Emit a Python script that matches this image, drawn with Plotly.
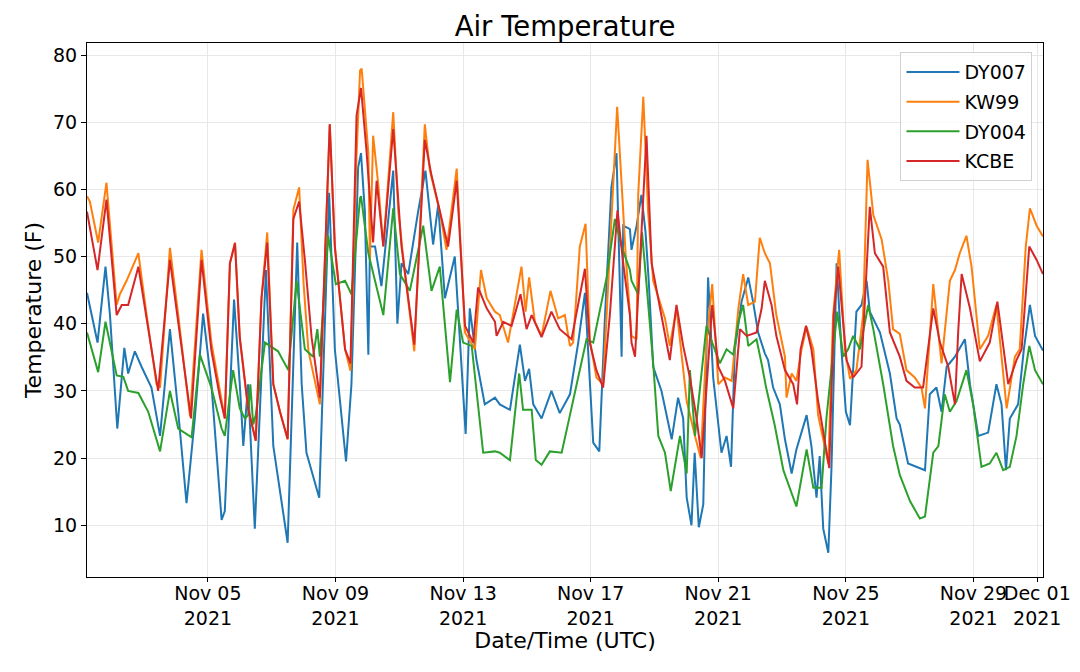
"""
Air Temperature - four stations, November 2021
"""

import pandas as pd
import plotly.graph_objects as go

# Values: day of month (fractional, UTC) and temperature (F)
dy007_day = [1.21, 1.54, 1.79, 1.93, 2.16, 2.38, 2.50, 2.71, 2.92, 3.23,
             3.50, 3.81, 4.07, 4.33, 4.59, 4.85, 5.11, 5.43, 5.53, 5.82,
             6.00, 6.11, 6.26, 6.47, 6.82, 7.05, 7.50, 7.80, 7.94, 8.09,
             8.49, 8.80, 8.98, 9.33, 9.50, 9.71, 9.80, 9.92, 10.03, 10.08,
             10.24, 10.44, 10.81, 10.94, 11.07, 11.28, 11.59, 11.82, 12.06, 12.22,
             12.43, 12.74, 13.08, 13.21, 13.42, 13.68, 14.00, 14.15, 14.47, 14.78,
             14.94, 15.07, 15.20, 15.46, 15.77, 16.03, 16.35, 16.61, 16.82, 16.97,
             17.08, 17.27, 17.45, 17.65, 17.81, 17.97, 18.02, 18.23, 18.28, 18.44,
             18.59, 18.72, 18.82, 18.96, 19.22, 19.54, 19.74, 19.90, 20.01, 20.16,
             20.26, 20.39, 20.53, 20.68, 20.84, 21.10, 21.26, 21.40, 21.52, 21.73,
             21.94, 22.09, 22.25, 22.46, 22.56, 22.72, 22.93, 23.09, 23.30, 23.45,
             23.77, 23.92, 24.08, 24.18, 24.29, 24.45, 24.55, 24.71, 24.86, 25.00,
             25.13, 25.33, 25.49, 25.65, 25.75, 26.07, 26.38, 26.59, 26.69, 26.95,
             27.48, 27.63, 27.84, 28.00, 28.16, 28.42, 28.73, 28.89, 29.15, 29.46,
             29.72, 29.88, 30.02, 30.14, 30.40, 30.58, 30.77, 30.93, 31.18]
dy007_temp = [44.6, 37.2, 48.5, 41.3, 24.4, 36.4, 32.6, 35.9, 33.6, 30.5,
              23.3, 39.2, 26.9, 13.3, 25.9, 41.5, 31.0, 10.8, 12.1, 43.6,
              31.0, 21.8, 31.0, 9.5, 48.0, 21.8, 7.4, 52.1, 31.0, 20.8,
              14.1, 59.5, 36.2, 19.5, 31.0, 63.3, 65.4, 56.7, 35.4, 51.5,
              51.5, 45.6, 62.8, 40.0, 49.0, 47.4, 56.7, 62.8, 51.8, 57.7,
              43.8, 50.0, 23.6, 42.3, 34.6, 28.0, 29.0, 28.0, 27.2, 36.9,
              31.5, 33.3, 28.0, 25.9, 30.0, 26.7, 29.5, 37.2, 44.6, 31.0,
              22.3, 21.0, 41.3, 60.3, 65.4, 35.1, 54.6, 54.1, 51.0, 54.6,
              59.2, 53.6, 46.4, 33.6, 30.0, 22.8, 29.0, 25.9, 14.1, 10.0,
              20.8, 9.7, 13.1, 46.9, 32.0, 20.8, 23.3, 18.7, 36.2, 43.3,
              46.9, 43.3, 38.7, 35.6, 34.6, 30.5, 28.0, 22.8, 17.7, 21.3,
              26.4, 21.8, 14.1, 20.3, 9.5, 5.9, 18.7, 49.0, 36.2, 26.9,
              24.9, 41.8, 42.8, 46.4, 41.8, 38.7, 32.6, 25.9, 25.0, 19.2,
              18.2, 29.5, 30.5, 26.9, 33.6, 35.1, 37.7, 31.0, 23.3, 23.8,
              31.0, 28.0, 18.2, 25.9, 28.0, 36.2, 42.8, 38.2, 36.0]

kw99_day = [1.21, 1.30, 1.56, 1.82, 2.14, 2.24, 2.45, 2.82, 3.08, 3.39,
            3.50, 3.81, 4.07, 4.44, 4.80, 5.11, 5.53, 5.69, 5.85, 6.00,
            6.26, 6.50, 6.68, 6.86, 7.05, 7.26, 7.50, 7.68, 7.86, 8.00,
            8.15, 8.51, 8.82, 8.98, 9.30, 9.47, 9.66, 9.77, 9.82, 10.03,
            10.08, 10.18, 10.34, 10.50, 10.81, 10.97, 11.18, 11.47, 11.80, 11.96,
            12.27, 12.48, 12.80, 13.06, 13.37, 13.56, 13.74, 14.00, 14.15, 14.41,
            14.83, 14.96, 15.07, 15.25, 15.46, 15.74, 15.98, 16.19, 16.35, 16.45,
            16.66, 16.84, 16.97, 17.18, 17.39, 17.65, 17.83, 18.02, 18.10, 18.28,
            18.44, 18.49, 18.65, 18.80, 18.96, 19.33, 19.48, 19.69, 20.01, 20.27,
            20.45, 20.63, 20.81, 21.00, 21.21, 21.42, 21.63, 21.78, 21.94, 22.15,
            22.30, 22.46, 22.62, 22.82, 23.09, 23.14, 23.30, 23.45, 23.61, 23.77,
            23.98, 24.13, 24.45, 24.60, 24.79, 24.97, 25.13, 25.33, 25.54, 25.68,
            25.86, 26.12, 26.33, 26.48, 26.69, 26.90, 27.16, 27.37, 27.48, 27.53,
            27.74, 28.00, 28.26, 28.42, 28.57, 28.78, 28.94, 29.20, 29.46, 29.72,
            30.04, 30.30, 30.45, 30.64, 30.77, 30.98, 31.18]
kw99_temp = [59.0, 58.2, 52.1, 61.0, 42.8, 44.4, 46.4, 50.5, 41.3, 31.0,
             30.5, 51.3, 41.3, 26.2, 51.0, 37.2, 25.9, 49.0, 52.1, 37.7,
             27.4, 22.6, 43.8, 53.6, 31.0, 26.9, 22.8, 57.0, 60.3, 46.0,
             36.0, 28.0, 69.7, 51.5, 36.2, 33.0, 65.0, 77.7, 78.0, 65.4,
             49.5, 68.0, 60.8, 51.5, 71.5, 56.7, 47.4, 35.9, 69.7, 62.8,
             56.7, 51.0, 63.1, 38.7, 36.2, 48.0, 43.8, 41.8, 41.3, 37.2,
             48.5, 41.8, 46.9, 40.3, 38.2, 44.9, 40.8, 41.3, 36.7, 37.2,
             51.5, 54.9, 37.7, 32.0, 31.0, 56.7, 72.3, 56.7, 50.0, 38.2,
             37.7, 59.2, 73.8, 56.7, 46.4, 40.8, 36.7, 42.3, 28.5, 23.3,
             20.0, 37.2, 45.9, 31.0, 32.0, 31.5, 42.3, 47.4, 42.8, 43.3,
             52.8, 50.5, 49.0, 41.3, 35.1, 29.0, 32.6, 31.5, 36.2, 39.5,
             36.2, 26.4, 19.2, 41.3, 51.0, 36.2, 31.8, 33.1, 41.3, 64.4,
             56.2, 52.6, 46.4, 39.2, 38.5, 33.1, 32.0, 30.5, 27.4, 31.0,
             45.9, 34.1, 46.4, 48.0, 50.5, 53.1, 48.5, 36.2, 38.2, 42.8,
             27.4, 35.1, 36.2, 51.5, 57.2, 54.6, 53.0]

dy004_day = [1.21, 1.56, 1.79, 2.14, 2.35, 2.50, 2.82, 3.13, 3.50, 3.81,
             4.07, 4.49, 4.75, 5.11, 5.43, 5.53, 5.79, 6.00, 6.16, 6.26,
             6.33, 6.42, 6.50, 6.79, 7.20, 7.52, 7.78, 8.04, 8.30, 8.43,
             8.51, 8.77, 9.01, 9.30, 9.50, 9.77, 9.80, 10.03, 10.50, 10.81,
             11.02, 11.33, 11.75, 12.01, 12.27, 12.59, 12.80, 13.00, 13.27, 13.63,
             14.00, 14.15, 14.47, 14.76, 14.88, 15.15, 15.28, 15.46, 15.72, 16.09,
             16.35, 16.61, 16.87, 17.08, 17.29, 17.50, 17.76, 17.97, 18.23, 18.28,
             18.49, 18.61, 18.75, 18.96, 19.12, 19.33, 19.51, 19.80, 20.01, 20.11,
             20.27, 20.45, 20.63, 20.81, 21.05, 21.26, 21.47, 21.63, 21.78, 21.94,
             22.20, 22.36, 22.50, 22.77, 23.04, 23.45, 23.77, 23.98, 24.24, 24.39,
             24.62, 24.73, 24.92, 25.07, 25.23, 25.44, 25.70, 25.86, 26.17, 26.48,
             26.69, 27.01, 27.32, 27.48, 27.74, 27.90, 28.10, 28.26, 28.47, 28.78,
             28.99, 29.25, 29.51, 29.72, 29.93, 30.14, 30.35, 30.56, 30.75, 30.93,
             31.18]
dy004_temp = [38.7, 32.8, 40.3, 32.3, 32.1, 30.0, 29.7, 26.9, 21.0, 30.0,
              24.4, 23.1, 35.4, 30.5, 24.4, 23.3, 33.1, 27.4, 25.9, 26.4,
              31.0, 25.0, 26.4, 37.2, 35.9, 33.1, 46.4, 36.2, 35.1, 39.2,
              35.1, 53.1, 45.9, 46.4, 44.4, 58.7, 59.0, 50.5, 41.3, 57.2,
              47.4, 44.9, 54.6, 44.9, 48.5, 31.3, 42.1, 37.2, 36.7, 20.8,
              21.0, 20.8, 19.7, 32.6, 27.2, 27.2, 19.7, 19.0, 21.0, 20.8,
              26.4, 32.0, 37.7, 37.2, 42.3, 46.9, 55.6, 51.5, 48.0, 46.4,
              44.4, 53.6, 45.9, 34.1, 23.3, 20.8, 15.1, 23.3, 17.7, 33.1,
              23.3, 31.0, 39.7, 37.2, 34.1, 36.2, 35.4, 40.3, 42.8, 36.7,
              37.7, 34.0, 30.5, 24.9, 18.2, 12.8, 21.3, 15.6, 15.6, 25.9,
              37.2, 41.8, 35.1, 36.2, 38.2, 36.2, 42.8, 39.2, 31.0, 21.8,
              17.5, 13.6, 11.0, 11.3, 20.8, 21.8, 29.5, 26.9, 28.5, 33.1,
              28.0, 18.7, 19.2, 20.8, 18.2, 18.7, 23.3, 31.0, 36.7, 33.1,
              31.0]

kcbe_day = [1.21, 1.54, 1.82, 2.14, 2.30, 2.50, 2.82, 3.44, 3.81, 4.47,
            4.80, 5.11, 5.38, 5.53, 5.69, 5.85, 6.00, 6.26, 6.50, 6.68,
            6.86, 7.05, 7.26, 7.50, 7.68, 7.86, 8.04, 8.25, 8.51, 8.82,
            8.98, 9.30, 9.47, 9.66, 9.80, 9.97, 10.18, 10.29, 10.50, 10.81,
            11.07, 11.47, 11.80, 12.01, 12.53, 12.80, 13.06, 13.32, 13.47, 13.74,
            14.00, 14.05, 14.26, 14.52, 14.80, 14.99, 15.15, 15.46, 15.77, 16.03,
            16.40, 16.82, 16.97, 17.18, 17.39, 17.60, 17.84, 18.02, 18.23, 18.28,
            18.39, 18.54, 18.75, 18.91, 19.12, 19.48, 19.69, 19.90, 20.11, 20.32,
            20.48, 20.81, 21.00, 21.21, 21.47, 21.68, 21.89, 22.20, 22.36, 22.46,
            22.67, 22.82, 23.09, 23.35, 23.47, 23.58, 23.75, 23.92, 24.13, 24.48,
            24.62, 24.76, 25.02, 25.23, 25.49, 25.63, 25.75, 25.91, 26.17, 26.38,
            26.69, 26.90, 27.16, 27.42, 27.74, 27.95, 28.21, 28.42, 28.52, 28.63,
            28.89, 29.20, 29.51, 29.75, 30.09, 30.35, 30.51, 30.75, 30.98, 31.18]
kcbe_temp = [56.7, 48.0, 58.5, 41.3, 42.8, 42.8, 48.5, 30.0, 49.5, 25.9,
             49.5, 36.0, 29.0, 25.9, 49.0, 52.0, 38.0, 27.4, 22.6, 43.8,
             52.1, 31.0, 26.9, 22.8, 55.6, 58.2, 49.5, 38.0, 29.0, 69.7,
             51.5, 36.2, 34.1, 71.0, 75.1, 65.9, 52.1, 61.3, 51.5, 69.0,
             51.5, 36.9, 67.4, 62.1, 51.5, 61.3, 39.7, 37.2, 45.4, 42.3,
             40.3, 38.2, 40.3, 39.7, 44.4, 39.2, 41.3, 38.0, 41.8, 39.2,
             37.7, 48.2, 37.2, 33.1, 30.5, 41.3, 56.9, 49.0, 41.3, 37.2,
             35.1, 49.5, 68.0, 49.0, 43.8, 34.6, 42.8, 36.7, 32.0, 25.9,
             20.0, 42.8, 33.6, 31.5, 27.4, 39.2, 38.2, 38.7, 42.3, 46.4,
             42.8, 38.2, 33.1, 31.0, 28.0, 36.2, 39.7, 36.2, 28.5, 18.5,
             41.3, 48.5, 34.6, 32.0, 33.6, 46.4, 57.4, 50.5, 48.5, 38.7,
             35.1, 31.5, 30.5, 30.5, 42.3, 37.2, 33.6, 28.0, 38.7, 47.4,
             42.3, 34.4, 37.2, 43.3, 31.0, 34.6, 36.2, 51.5, 49.5, 47.4]

stations = ['DY007', 'KW99', 'DY004', 'KCBE']
station_days = [dy007_day, kw99_day, dy004_day, kcbe_day]
station_temps = [dy007_temp, kw99_temp, dy004_temp, kcbe_temp]
colors = ['#1f77b4', '#ff7f0e', '#2ca02c', '#d62728']

tick_dates = ['2021-11-05', '2021-11-09', '2021-11-13', '2021-11-17',
              '2021-11-21', '2021-11-25', '2021-11-29', '2021-12-01']
tick_labels = ['Nov 05<br>2021', 'Nov 09<br>2021', 'Nov 13<br>2021', 'Nov 17<br>2021',
               'Nov 21<br>2021', 'Nov 25<br>2021', 'Nov 29<br>2021', 'Dec 01<br>2021']

month_start = pd.Timestamp('2021-11-01')


def to_time(days):
    return month_start + pd.to_timedelta(pd.Series(days) - 1, unit='D')


fig = go.Figure()
for name, days, temps, color in zip(stations, station_days, station_temps, colors):
    fig.add_trace(go.Scatter(
        x=to_time(days),
        y=temps,
        mode='lines',
        name=name,
        legendgroup=name,
        line=dict(color=color, width=2),
    ))

# the page body adds an 8px offset, so the figure is 8px smaller than the window
font = 'DejaVu Sans, Arial, sans-serif'
fig.update_layout(
    width=1072,
    height=664,
    margin=dict(l=79, r=37, t=35, b=95),
    paper_bgcolor='white',
    plot_bgcolor='white',
    font=dict(family=font, size=19, color='black'),
    title=dict(text='Air Temperature', x=0.5, xanchor='center',
               xref='paper', yref='paper', y=1, yanchor='bottom',
               pad=dict(b=7), font=dict(size=27.5, color='black')),
    legend=dict(x=0.989, y=0.983, xanchor='right', yanchor='top',
                bgcolor='rgba(255,255,255,0.8)', bordercolor='#d0d0d0',
                borderwidth=1, font=dict(size=19), itemwidth=53,
                tracegroupgap=2),
    showlegend=True,
)
fig.update_xaxes(
    range=[to_time([1.21])[0], to_time([31.18])[0]],
    tickvals=pd.to_datetime(tick_dates),
    ticktext=tick_labels,
    tickangle=0,
    ticklabelstandoff=-5,
    automargin=False,
    showgrid=True, gridcolor='#e8e8e8', gridwidth=1,
    showline=True, linecolor='black', linewidth=1, mirror=True,
    ticks='outside', ticklen=4, tickcolor='black',
    title=dict(text='Date/Time (UTC)', font=dict(size=22), standoff=0),
    zeroline=False,
)
fig.update_yaxes(
    range=[2.3, 81.8],
    tickmode='linear', tick0=0, dtick=10,
    automargin=False,
    showgrid=True, gridcolor='#e8e8e8', gridwidth=1,
    showline=True, linecolor='black', linewidth=1, mirror=True,
    ticks='outside', ticklen=5, tickcolor='black',
    title=dict(text='Temperature (F)', font=dict(size=22), standoff=5),
    zeroline=False,
)

fig.write_html('out.html')
print('Created: out.html')
